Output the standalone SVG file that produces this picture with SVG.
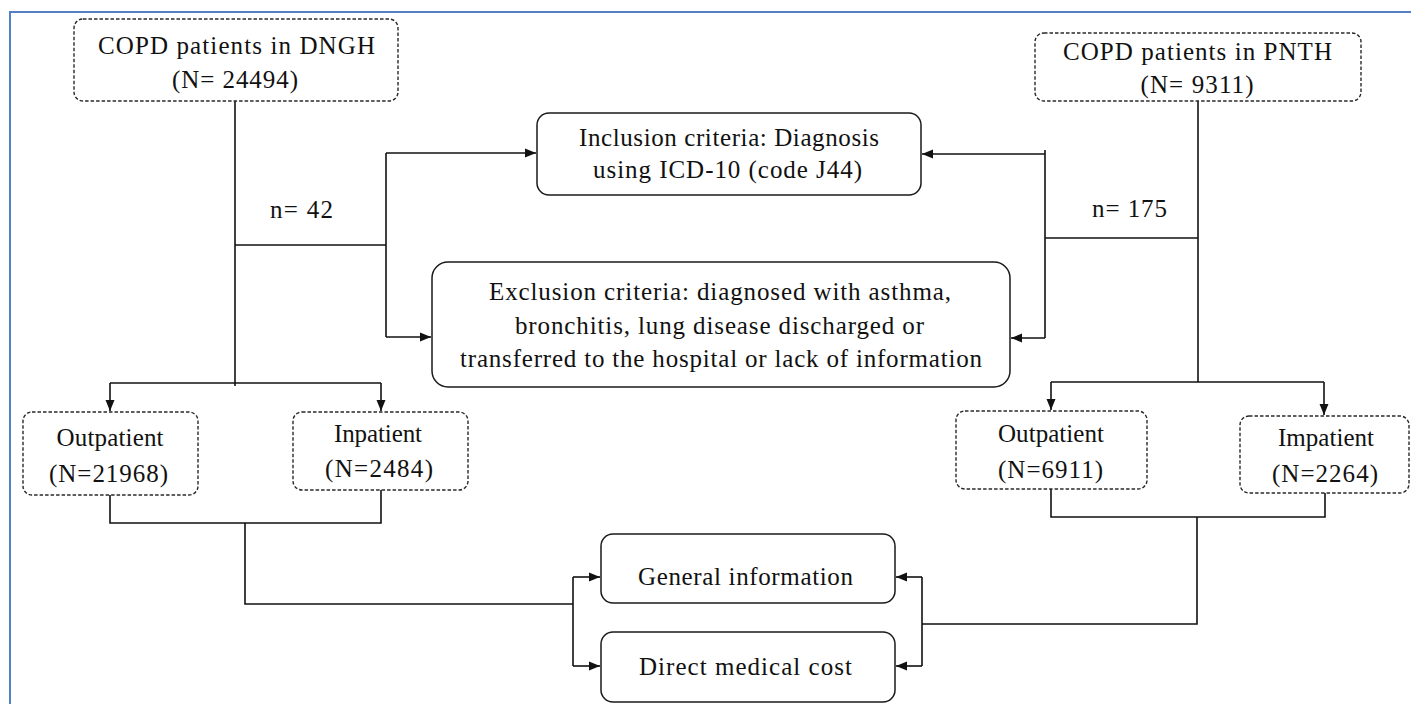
<svg xmlns="http://www.w3.org/2000/svg" width="1411" height="704" viewBox="0 0 1411 704">
<style>
  text { font-family: "Liberation Serif", "Times New Roman", serif; font-size: 25px; fill: #111; text-anchor: middle; }
  .dash { fill: #ffffff; stroke: #2a2a2a; stroke-width: 1.4; stroke-dasharray: 3.5 2; }
  .solid { fill: #ffffff; stroke: #1a1a1a; stroke-width: 1.5; }
  .ln { fill: none; stroke: #111; stroke-width: 1.6; }
  .ar { fill: none; stroke: #111; stroke-width: 1.6; marker-end: url(#ah); }
  .frame { fill: none; stroke: #5580C8; stroke-width: 2; }
</style>
<defs>
  <marker id="ah" markerUnits="userSpaceOnUse" markerWidth="12" markerHeight="10" refX="11" refY="5" orient="auto">
    <path d="M0,0.5 L11,5 L0,9.5 Z" fill="#111"/>
  </marker>
</defs>
<rect width="1411" height="704" fill="#ffffff"/>
<path class="frame" d="M10,704 V12 H1411"/>

<g id="connectors">
  <path class="ln" d="M235,101 V386"/>
  <path class="ln" d="M235,245 H386"/>
  <path class="ln" d="M386,153 V337"/>
  <path class="ar" d="M386,153 H536"/>
  <path class="ar" d="M386,337 H431"/>
  <path class="ln" d="M110,383 H381"/>
  <path class="ar" d="M110,383 V411"/>
  <path class="ar" d="M381,383 V411"/>
  <path class="ln" d="M110,495 V523 H381 V490"/>
  <path class="ln" d="M245,523 V604 H573"/>
  <path class="ln" d="M573,577 V666"/>
  <path class="ar" d="M573,577 H600"/>
  <path class="ar" d="M573,666 H600"/>
  <path class="ln" d="M1198,101 V382"/>
  <path class="ln" d="M1045,238 H1198"/>
  <path class="ln" d="M1045,150 V338"/>
  <path class="ar" d="M1045,154 H922"/>
  <path class="ar" d="M1045,338 H1011"/>
  <path class="ln" d="M1051,382 H1324"/>
  <path class="ar" d="M1051,382 V410"/>
  <path class="ar" d="M1324,382 V415"/>
  <path class="ln" d="M1051,489 V517 H1325 V493"/>
  <path class="ln" d="M1197,517 V624 H922"/>
  <path class="ln" d="M922,577 V666"/>
  <path class="ar" d="M922,577 H896"/>
  <path class="ar" d="M922,666 H896"/>
</g>

<g id="dngh">
  <rect class="dash" x="74" y="19" width="324" height="82" rx="9"/>
  <text x="236.5" y="54" textLength="277">COPD patients in DNGH</text>
  <text x="235" y="88" textLength="126">(N= 24494)</text>
</g>

<g id="pnth">
  <rect class="dash" x="1035" y="33" width="326" height="68" rx="9"/>
  <text x="1197.5" y="60" textLength="269">COPD patients in PNTH</text>
  <text x="1197" y="93" textLength="113">(N= 9311)</text>
</g>

<g id="label-n42">
  <text x="301.5" y="218" textLength="63">n= 42</text>
</g>
<g id="label-n175">
  <text x="1129.5" y="217" textLength="75">n= 175</text>
</g>

<g id="inclusion">
  <rect class="solid" x="537" y="113" width="384" height="82" rx="12"/>
  <text x="729" y="146" textLength="300">Inclusion criteria: Diagnosis</text>
  <text x="727.5" y="178" textLength="269">using ICD-10 (code J44)</text>
</g>

<g id="exclusion">
  <rect class="solid" x="432" y="262" width="578" height="125" rx="16"/>
  <text x="720" y="300" textLength="462">Exclusion criteria: diagnosed with asthma,</text>
  <text x="719.5" y="334" textLength="409">bronchitis, lung disease discharged or</text>
  <text x="721" y="367" textLength="522">transferred to the hospital or lack of information</text>
</g>

<g id="outpatient-dngh">
  <rect class="dash" x="23" y="412" width="175" height="83" rx="9"/>
  <text x="110" y="446" textLength="107">Outpatient</text>
  <text x="108.5" y="482" textLength="119">(N=21968)</text>
</g>

<g id="inpatient-dngh">
  <rect class="dash" x="293" y="412" width="175" height="78" rx="9"/>
  <text x="378" y="442" textLength="88">Inpatient</text>
  <text x="379" y="477" textLength="108">(N=2484)</text>
</g>

<g id="outpatient-pnth">
  <rect class="dash" x="956" y="411" width="191" height="78" rx="9"/>
  <text x="1051" y="442" textLength="106">Outpatient</text>
  <text x="1050.5" y="478" textLength="105">(N=6911)</text>
</g>

<g id="impatient-pnth">
  <rect class="dash" x="1240" y="416" width="169" height="77" rx="9"/>
  <text x="1326" y="446" textLength="96">Impatient</text>
  <text x="1325" y="482" textLength="106">(N=2264)</text>
</g>

<g id="general-information">
  <rect class="solid" x="601" y="534" width="294" height="69" rx="12"/>
  <text x="745.5" y="585" textLength="215">General information</text>
</g>

<g id="direct-medical-cost">
  <rect class="solid" x="601" y="632" width="294" height="70" rx="12"/>
  <text x="745.5" y="675" textLength="213">Direct medical cost</text>
</g>
</svg>
